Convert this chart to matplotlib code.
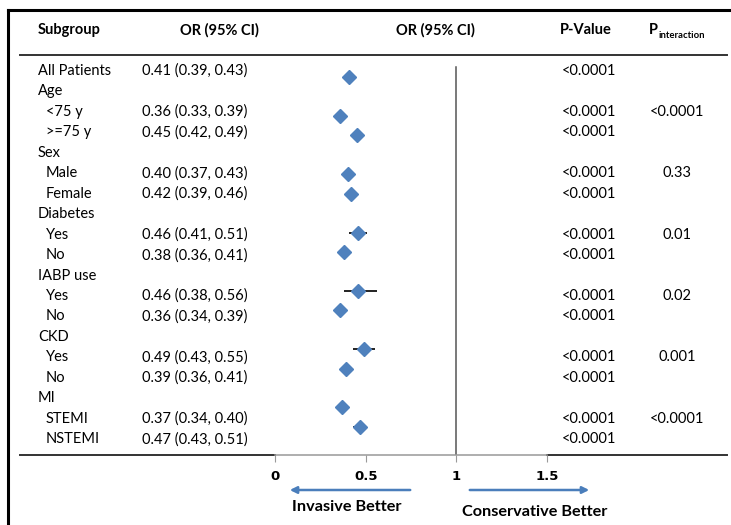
import numpy as np
import matplotlib
matplotlib.use('Agg')
import matplotlib.pyplot as plt

plt.rcParams['font.family'] = ['Lato', 'DejaVu Sans']

# Table rows
labels = ['All Patients', 'Age', '<75 y', '>=75 y', 'Sex', 'Male', 'Female',
          'Diabetes', 'Yes', 'No', 'IABP use', 'Yes', 'No',
          'CKD', 'Yes', 'No', 'MI', 'STEMI', 'NSTEMI']
indented = [False, False, True, True, False, True, True,
            False, True, True, False, True, True,
            False, True, True, False, True, True]
or_est = [0.41, np.nan, 0.36, 0.45, np.nan, 0.40, 0.42,
          np.nan, 0.46, 0.38, np.nan, 0.46, 0.36,
          np.nan, 0.49, 0.39, np.nan, 0.37, 0.47]
ci_low = [0.39, np.nan, 0.33, 0.42, np.nan, 0.37, 0.39,
          np.nan, 0.41, 0.36, np.nan, 0.38, 0.34,
          np.nan, 0.43, 0.36, np.nan, 0.34, 0.43]
ci_high = [0.43, np.nan, 0.39, 0.49, np.nan, 0.43, 0.46,
           np.nan, 0.51, 0.41, np.nan, 0.56, 0.39,
           np.nan, 0.55, 0.41, np.nan, 0.40, 0.51]
p_values = ['<0.0001', '', '<0.0001', '<0.0001', '', '<0.0001', '<0.0001',
            '', '<0.0001', '<0.0001', '', '<0.0001', '<0.0001',
            '', '<0.0001', '<0.0001', '', '<0.0001', '<0.0001']
p_interaction = ['', '', '<0.0001', '', '', '0.33', '',
                 '', '0.01', '', '', '0.02', '',
                 '', '0.001', '', '', '<0.0001', '']
x_ticks = [0, 0.5, 1, 1.5]
x_tick_labels = ['0', '0.5', '1', '1.5']

W, H = 731, 525
fig = plt.figure(figsize=(W / 100, H / 100), dpi=100)

######## Background / table layer (pixel coords) ########
bg = fig.add_axes([0, 0, 1, 1])
bg.set_xlim(0, W)
bg.set_ylim(H, 0)
bg.axis('off')

# outer frame (left + top)
bg.plot([8, 8], [10, H], color='black', lw=2.2)
bg.plot([8, W], [10, 10], color='black', lw=2.2)

# header / footer rules
bg.plot([20, 727], [55, 55], color='#333333', lw=1.4)
bg.plot([20, 275], [455, 455], color='#333333', lw=1.4)
bg.plot([547, 727], [455, 455], color='#333333', lw=1.4)

fs = 10.5
bg.text(38, 30, 'Subgroup', fontsize=fs, fontweight='bold', va='center')
bg.text(219, 30, 'OR (95% CI)', fontsize=fs, fontweight='bold', va='center', ha='center')
bg.text(435, 30, 'OR (95% CI)', fontsize=fs, fontweight='bold', va='center', ha='center')
bg.text(586, 30, 'P-Value', fontsize=fs, fontweight='bold', va='center', ha='center')
bg.text(649, 30, 'P', fontsize=fs, fontweight='bold', va='center')
bg.text(659, 35, 'interaction', fontsize=6.8, fontweight='bold', va='center')

row_top, row_step = 71, 20.45
for i, lab in enumerate(labels):
    y = row_top + row_step * i
    bg.text(46 if indented[i] else 38, y, lab, fontsize=fs, va='center')
    if not np.isnan(or_est[i]):
        txt = '{:.2f} ({:.2f}, {:.2f})'.format(or_est[i], ci_low[i], ci_high[i])
        bg.text(142, y, txt, fontsize=fs, va='center')
    if p_values[i]:
        bg.text(562, y, p_values[i], fontsize=fs, va='center')
    if p_interaction[i]:
        bg.text(677, y, p_interaction[i], fontsize=fs, va='center', ha='center')

# direction arrows
arrow_col = '#4A7EBB'
bg.annotate('', xy=(287, 490), xytext=(413, 490),
            arrowprops=dict(arrowstyle='-|>', color=arrow_col, lw=1.8, mutation_scale=10))
bg.annotate('', xy=(592, 490), xytext=(467, 490),
            arrowprops=dict(arrowstyle='-|>', color=arrow_col, lw=1.8, mutation_scale=10))
bg.text(347, 507, 'Invasive Better', fontsize=11.7, fontweight='bold', ha='center', va='center')
bg.text(535, 512, 'Conservative Better', fontsize=11.7, fontweight='bold', ha='center', va='center')

######## Forest plot ########
ax_left, ax_right = 275, 547
ax_top, ax_bottom = 60, 455
mk_top, mk_step = 77, 19.44
ax = fig.add_axes([ax_left / W, 1 - ax_bottom / H, (ax_right - ax_left) / W, (ax_bottom - ax_top) / H])
ax.set_xlim(0, 1.5)
ax.set_ylim((ax_bottom - mk_top) / mk_step, (ax_top - mk_top) / mk_step)
ax.patch.set_alpha(0)

rows = np.arange(len(labels))
est = np.array(or_est)
lo = np.array(ci_low)
hi = np.array(ci_high)
ok = ~np.isnan(est)
ax.hlines(rows[ok], lo[ok], hi[ok], color='#222222', lw=1.4, zorder=2)
ax.plot(est[ok], rows[ok], 'D', color='#4F81BD', markersize=7, zorder=3)

ax.axvline(1, ymin=0, ymax=(ax_bottom - 67) / (ax_bottom - ax_top), color='#555555', lw=1.1)

for s in ['top', 'right', 'left']:
    ax.spines[s].set_visible(False)
ax.spines['bottom'].set_color('#999999')
ax.spines['bottom'].set_linewidth(1.1)
ax.set_yticks([])
ax.set_xticks(x_ticks)
ax.set_xticklabels(x_tick_labels, fontsize=9.5, fontweight='bold', fontfamily='DejaVu Sans')
ax.tick_params(axis='x', direction='out', length=5, color='#999999', pad=6)

fig.savefig('out.png', dpi=100)
